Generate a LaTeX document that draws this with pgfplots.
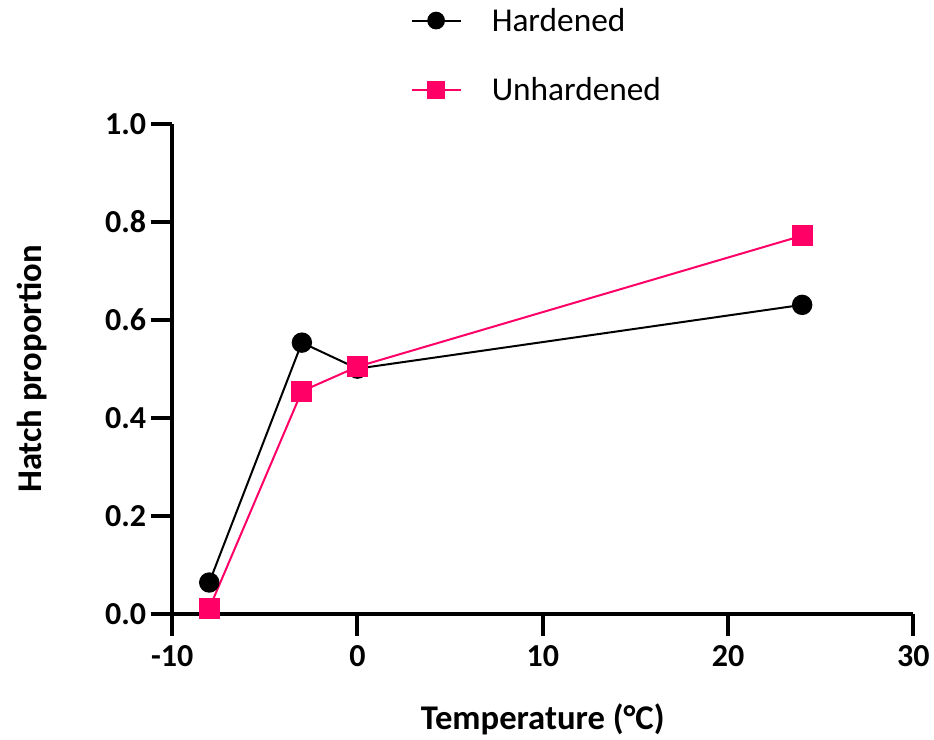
\documentclass[border=0pt]{standalone}
\usepackage{pgfplots}
\pgfplotsset{compat=1.18}
\usepackage{fontspec}
\setmainfont{Carlito}
\definecolor{hot}{HTML}{FF0066}
\begin{document}
\begin{tikzpicture}
\begin{axis}[
  scale only axis, width=556pt, height=368pt,
  xmin=-10, xmax=30, ymin=0, ymax=1.0,
  axis x line*=bottom, axis y line*=left,
  axis line style={line width=3pt, -},
  xtick={-10,0,10,20,30}, ytick={0,0.2,0.4,0.6,0.8,1.0},
  yticklabel style={/pgf/number format/.cd, fixed, fixed zerofill, precision=1},
  /pgf/number format/assume math mode=true,
  tick style={line width=3pt, black},
  major tick length=16pt,
  tick align=outside,
  ticklabel style={font=\fontsize{24}{28}\selectfont\bfseries},
  xticklabel style={yshift=-4pt},
  xlabel={Temperature (°C)}, ylabel={Hatch proportion},
  label style={font=\fontsize{26}{30}\selectfont\bfseries},
  xlabel style={yshift=-21pt},
  ylabel style={yshift=27pt, inner ysep=13pt},
  clip=false,
  legend style={draw=none, fill=none, at={(0.322,1.0)}, anchor=south west,
    font=\fontsize{25}{30}\selectfont, row sep=29pt, inner xsep=0pt, inner ysep=4pt,
    legend cell align=left, yshift=10pt},
  legend image code/.code={
    \draw[mark repeat=2,mark phase=2,mark size=5.9pt] plot coordinates {(0pt,0pt) (18pt,0pt) (37pt,0pt)};
  },
]
\addplot[black, line width=1.5pt, mark=*, mark size=6.9pt, mark options={solid, fill=black}]
  coordinates {(-8,0.065) (-3,0.554) (0,0.501) (24,0.631)};
\addlegendentry{\hspace{20pt}Hardened}
\addplot[hot, line width=1.5pt, mark=square*, mark size=7.1pt, mark options={solid, fill=hot}]
  coordinates {(-8,0.012) (-3,0.455) (0,0.505) (24,0.772)};
\addlegendentry{\hspace{20pt}Unhardened}
\end{axis}
\end{tikzpicture}
\end{document}
